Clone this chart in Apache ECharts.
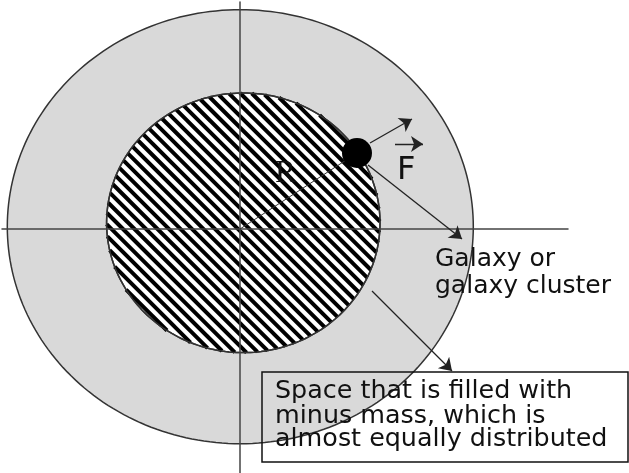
<!DOCTYPE html>
<html><head><meta charset="utf-8">
<script src="https://cdn.jsdelivr.net/npm/echarts@6/dist/echarts.min.js"></script>
<style>html,body{margin:0;padding:0;background:#fff}#c{width:629px;height:473px}</style>
</head><body><div id="c"></div>
<script>
// ---- Diagram data (data units, origin at the crossing of the two axes, y up) ----
const regionNames   = ['minus-mass space', 'galaxy cluster region'];
const regionCenterX = [0.3, 3.3];
const regionCenterY = [2.3, 6.2];
const regionRadiusX = [233, 136.7];
const regionRadiusY = [217, 129.8];
const regionHatched = [false, true];

const galaxyPos   = [117, 76];
const radiusLine  = [[0, 0], [117, 76]];

const arrowStarts = [[130, 86], [128, 64], [155, 85], [132, -62]];
const arrowEnds   = [[172, 110], [222, -10], [183, 85], [212, -142]];

const labelTexts = ['R', 'F', 'Galaxy or', 'galaxy cluster'];
const labelX     = [35, 157, 195, 195];
const labelY     = [44, 47, -39, -66];   // baselines

const boxCorners = [[22, -143], [388, -233]];
const boxLines   = ['Space that is filled with', 'minus mass, which is', 'almost equally distributed'];
const boxLineX   = [35, 35, 35];
const boxLineY   = [-171, -196, -219];  // baselines

// ---- styles ----
const labelFonts = ['31px "Liberation Serif"', '32px "DejaVu Sans"', '25px "DejaVu Sans"', '25px "DejaVu Sans"'];
const labelSizes = [31, 32, 25, 25];
const HATCH_STEP = 11.5;

const chart = echarts.init(document.getElementById('c'), null, {renderer: 'canvas'});

function ellipsePoints(cx, cy, rx, ry) {
  const pts = [];
  for (let i = 0; i < 240; i++) {
    const t = i / 240 * Math.PI * 2;
    pts.push([cx + rx * Math.cos(t), cy + ry * Math.sin(t)]);
  }
  return pts;
}

function renderRegion(params, api) {
  const c = api.coord([api.value(0), api.value(1)]);
  const s = api.size([api.value(2), api.value(3)]);
  const rx = s[0], ry = s[1];
  const hatched = regionHatched[params.dataIndex];
  const children = [{
    type: 'polygon',
    shape: {points: ellipsePoints(c[0], c[1], rx, ry)},
    style: {fill: hatched ? '#ffffff' : '#d9d9d9', stroke: '#333', lineWidth: 1.5}
  }];
  if (hatched) {
    const A = 1 / (rx * rx) + 1 / (ry * ry);
    const lim = rx + ry;
    for (let d = -Math.floor(lim / HATCH_STEP) * HATCH_STEP; d <= lim; d += HATCH_STEP) {
      const B = 2 * d / (ry * ry);
      const C = d * d / (ry * ry) - 1;
      const disc = B * B - 4 * A * C;
      if (disc <= 0) continue;
      const sq = Math.sqrt(disc);
      const u1 = (-B - sq) / (2 * A), u2 = (-B + sq) / (2 * A);
      children.push({
        type: 'line',
        shape: {x1: c[0] + u1, y1: c[1] + u1 + d, x2: c[0] + u2, y2: c[1] + u2 + d},
        style: {stroke: '#000', lineWidth: 4}
      });
    }
    children.push({
      type: 'polygon',
      shape: {points: ellipsePoints(c[0], c[1], rx, ry)},
      style: {fill: 'none', stroke: '#333', lineWidth: 1.5}
    });
  }
  return {type: 'group', children};
}

function renderLabel(params, api) {
  const i = params.dataIndex;
  const p = api.coord([api.value(0), api.value(1)]);
  return {
    type: 'text', x: p[0], y: p[1] - labelSizes[i] * 0.35,
    style: {text: labelTexts[i], font: labelFonts[i], fill: '#111', align: 'left', verticalAlign: 'middle'}
  };
}

function renderBoxLine(params, api) {
  const i = params.dataIndex;
  const p = api.coord([api.value(0), api.value(1)]);
  return {
    type: 'text', x: p[0], y: p[1] - 25 * 0.35,
    style: {text: boxLines[i], font: '25.4px "DejaVu Sans"', fill: '#111', align: 'left', verticalAlign: 'middle'}
  };
}

function renderBox(params, api) {
  const a = api.coord(boxCorners[0]);
  const b = api.coord(boxCorners[1]);
  return {
    type: 'rect',
    shape: {x: a[0], y: a[1], width: b[0] - a[0], height: b[1] - a[1]},
    style: {fill: 'none', stroke: '#111', lineWidth: 1.5}
  };
}

const axisCommon = {
  type: 'value',
  axisLine: {onZero: true, lineStyle: {color: '#444', width: 1.5}},
  axisTick: {show: false}, axisLabel: {show: false}, splitLine: {show: false},
  z: 5
};

chart.setOption({
  animation: false,
  backgroundColor: '#fff',
  grid: {left: 2, right: 61, top: 2, bottom: 0},
  xAxis: Object.assign({min: -238, max: 328}, axisCommon),
  yAxis: Object.assign({min: -244, max: 227}, axisCommon),
  series: [
    {
      type: 'custom', name: 'regions', z: 1, clip: false,
      renderItem: renderRegion,
      data: regionNames.map((n, i) => ({name: n, value: [regionCenterX[i], regionCenterY[i], regionRadiusX[i], regionRadiusY[i]]}))
    },
    {
      type: 'lines', coordinateSystem: 'cartesian2d', z: 6,
      symbol: ['none', 'none'],
      lineStyle: {color: '#333', width: 1, opacity: 1, curveness: 0},
      data: [{coords: radiusLine}]
    },
    {
      type: 'lines', coordinateSystem: 'cartesian2d', z: 6,
      symbol: ['none', 'arrow'], symbolSize: 12,
      lineStyle: {color: '#222', width: 1.3, opacity: 1, curveness: 0},
      data: arrowStarts.map((s, i) => ({coords: [s, arrowEnds[i]]}))
    },
    {
      type: 'scatter', z: 7, symbol: 'circle', symbolSize: 30,
      itemStyle: {color: '#000', opacity: 1},
      data: [galaxyPos]
    },
    {
      type: 'custom', z: 8, clip: false, renderItem: renderLabel,
      data: labelX.map((x, i) => [x, labelY[i]])
    },
    {
      type: 'custom', z: 8, clip: false, renderItem: renderBoxLine,
      data: boxLineX.map((x, i) => [x, boxLineY[i]])
    },
    {
      type: 'custom', z: 8, clip: false, renderItem: renderBox,
      data: [[0, 0]]
    }
  ]
});
</script></body></html>
